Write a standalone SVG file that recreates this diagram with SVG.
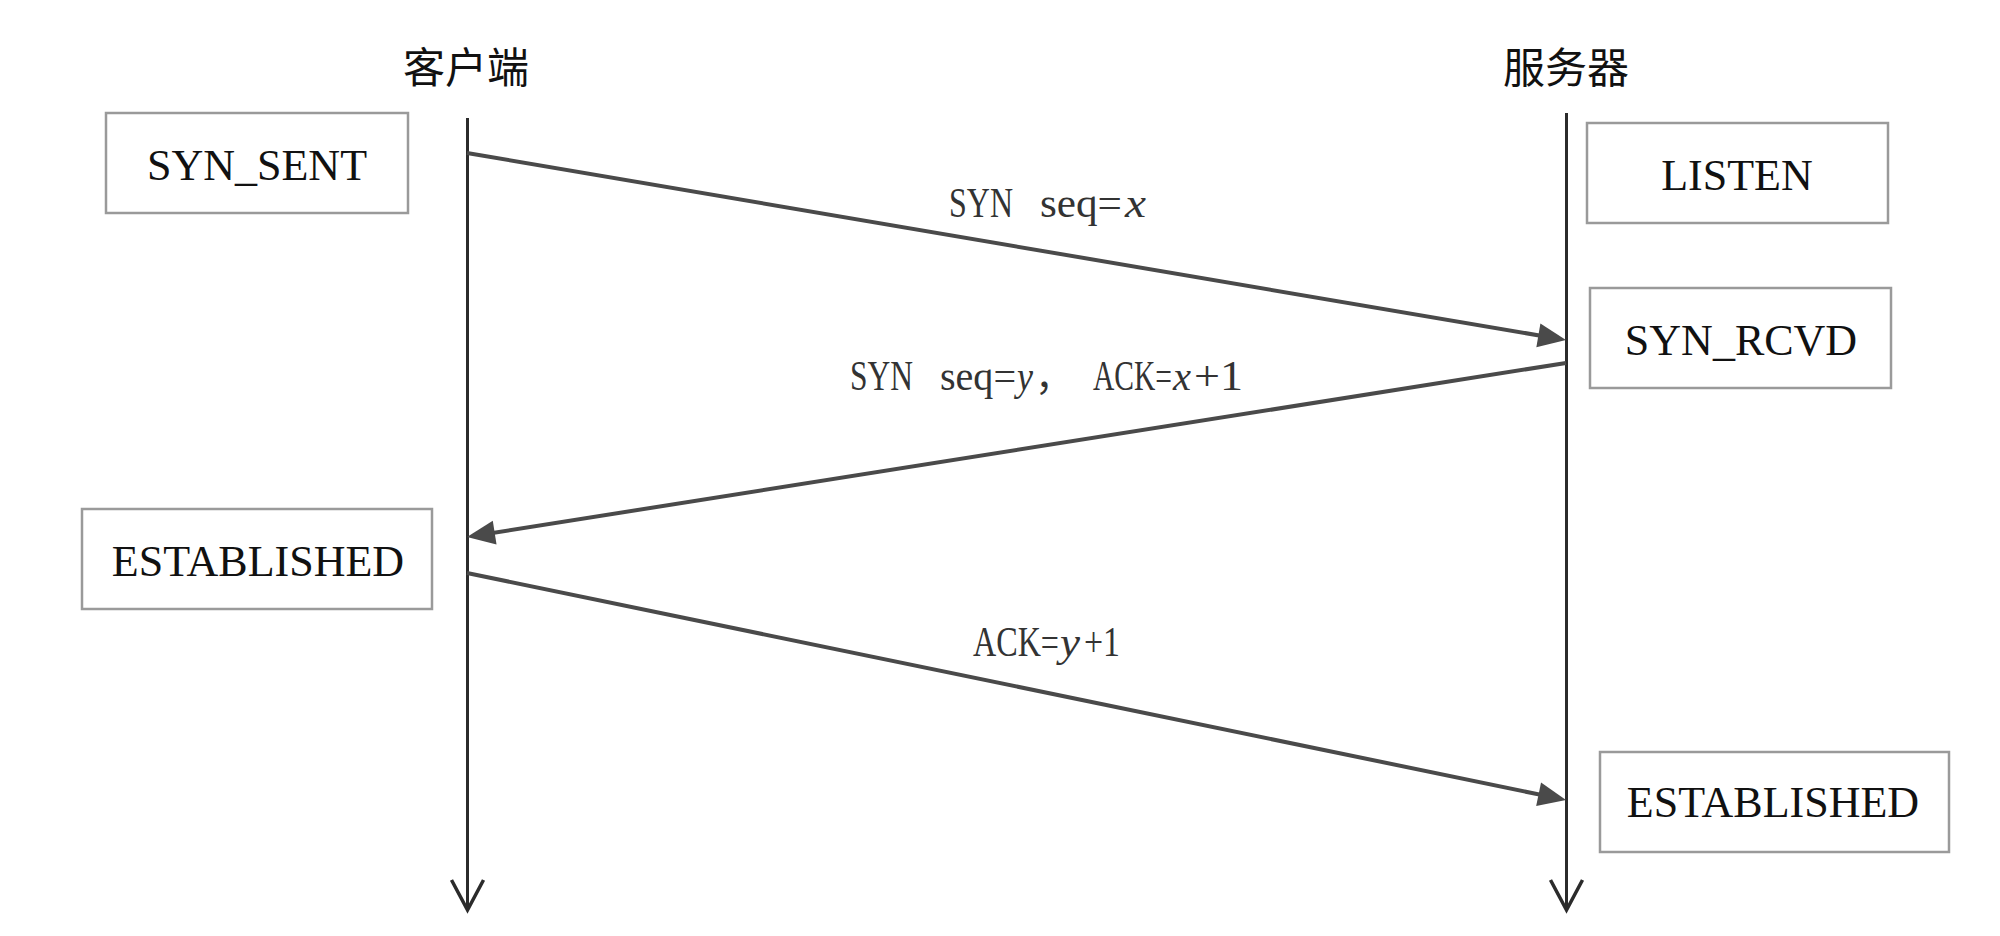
<svg xmlns="http://www.w3.org/2000/svg" width="2000" height="936" viewBox="0 0 2000 936">
<style>
.hdr{font-family:"Noto Sans CJK SC","Noto Sans",sans-serif;font-size:42px;fill:#111;text-anchor:middle}
.box{fill:#fff;stroke:#9a9a9a;stroke-width:2.5}
.st{font-family:"Liberation Serif","Times New Roman",serif;font-size:44px;fill:#111;text-anchor:middle}
.lbl{font-family:"Liberation Serif","Times New Roman",serif;font-size:42px;fill:#333}
.it{font-style:italic}
.cjk{font-family:"Noto Sans CJK SC",sans-serif;font-size:38px;fill:#333}
.life{stroke:#2b2b2b;stroke-width:3;fill:none}
.msg{stroke:#4a4a4a;stroke-width:4;fill:none}
</style>
<defs>
<marker id="open" markerUnits="userSpaceOnUse" viewBox="0 -20 34 40" markerWidth="34" markerHeight="40" refX="31" refY="0" orient="auto" overflow="visible">
<path d="M1,-16 L31,0 L1,16" fill="none" stroke="#2b2b2b" stroke-width="3.5"/>
</marker>
<marker id="fill" markerUnits="userSpaceOnUse" viewBox="0 0 28 24" markerWidth="28" markerHeight="24" refX="20" refY="12" orient="auto" overflow="visible">
<path d="M0,0 L28,12 L0,24 z" fill="#4a4a4a"/>
</marker>
</defs>
<rect width="2000" height="936" fill="#fff"/>
<g id="client">
<text class="hdr" x="466" y="83">客户端</text>
<line class="life" x1="467.5" y1="118" x2="467.5" y2="910" marker-end="url(#open)"/>
</g>
<g id="server">
<text class="hdr" x="1566" y="83">服务器</text>
<line class="life" x1="1566.5" y1="113" x2="1566.5" y2="910" marker-end="url(#open)"/>
</g>
<g id="syn_sent">
<rect class="box" x="106" y="113" width="302" height="100"/>
<text class="st" x="257" y="180">SYN_SENT</text>
</g>
<g id="listen">
<rect class="box" x="1587" y="123" width="301" height="100"/>
<text class="st" x="1737" y="190">LISTEN</text>
</g>
<g id="syn_rcvd">
<rect class="box" x="1590" y="288" width="301" height="100"/>
<text class="st" x="1741" y="355">SYN_RCVD</text>
</g>
<g id="established_client">
<rect class="box" x="82" y="509" width="350" height="100"/>
<text class="st" x="258" y="576">ESTABLISHED</text>
</g>
<g id="established_server">
<rect class="box" x="1600" y="752" width="349" height="100"/>
<text class="st" x="1773" y="817">ESTABLISHED</text>
</g>
<g id="connectors">
<line class="msg" x1="467" y1="153" x2="1558.1" y2="338.7" marker-end="url(#fill)"/>
<line class="msg" x1="1566" y1="363" x2="474.9" y2="535.75" marker-end="url(#fill)"/>
<line class="msg" x1="467" y1="573" x2="1558.2" y2="798.4" marker-end="url(#fill)"/>
<g id="label1">
<text class="lbl" x="949" y="217" textLength="64" lengthAdjust="spacingAndGlyphs">SYN</text>
<text class="lbl" x="1040" y="217" textLength="82" lengthAdjust="spacingAndGlyphs">seq=</text>
<text class="lbl it" x="1125" y="217" textLength="21" lengthAdjust="spacingAndGlyphs">x</text>
</g>
<g id="label2">
<text class="lbl" x="850" y="390" textLength="63" lengthAdjust="spacingAndGlyphs">SYN</text>
<text class="lbl" x="940" y="390" textLength="76" lengthAdjust="spacingAndGlyphs">seq=</text>
<text class="lbl it" x="1017" y="390" textLength="16" lengthAdjust="spacingAndGlyphs">y</text>
<text class="cjk" x="1035" y="390">，</text>
<text class="lbl" x="1093" y="390" textLength="79" lengthAdjust="spacingAndGlyphs">ACK=</text>
<text class="lbl it" x="1173" y="390" textLength="18" lengthAdjust="spacingAndGlyphs">x</text>
<text class="lbl" x="1194" y="390" textLength="49" lengthAdjust="spacingAndGlyphs">+1</text>
</g>
<g id="label3">
<text class="lbl" x="973" y="656" textLength="86" lengthAdjust="spacingAndGlyphs">ACK=</text>
<text class="lbl it" x="1060" y="656" textLength="20" lengthAdjust="spacingAndGlyphs">y</text>
<text class="lbl" x="1084" y="656" textLength="36" lengthAdjust="spacingAndGlyphs">+1</text>
</g>
</g>
</svg>
